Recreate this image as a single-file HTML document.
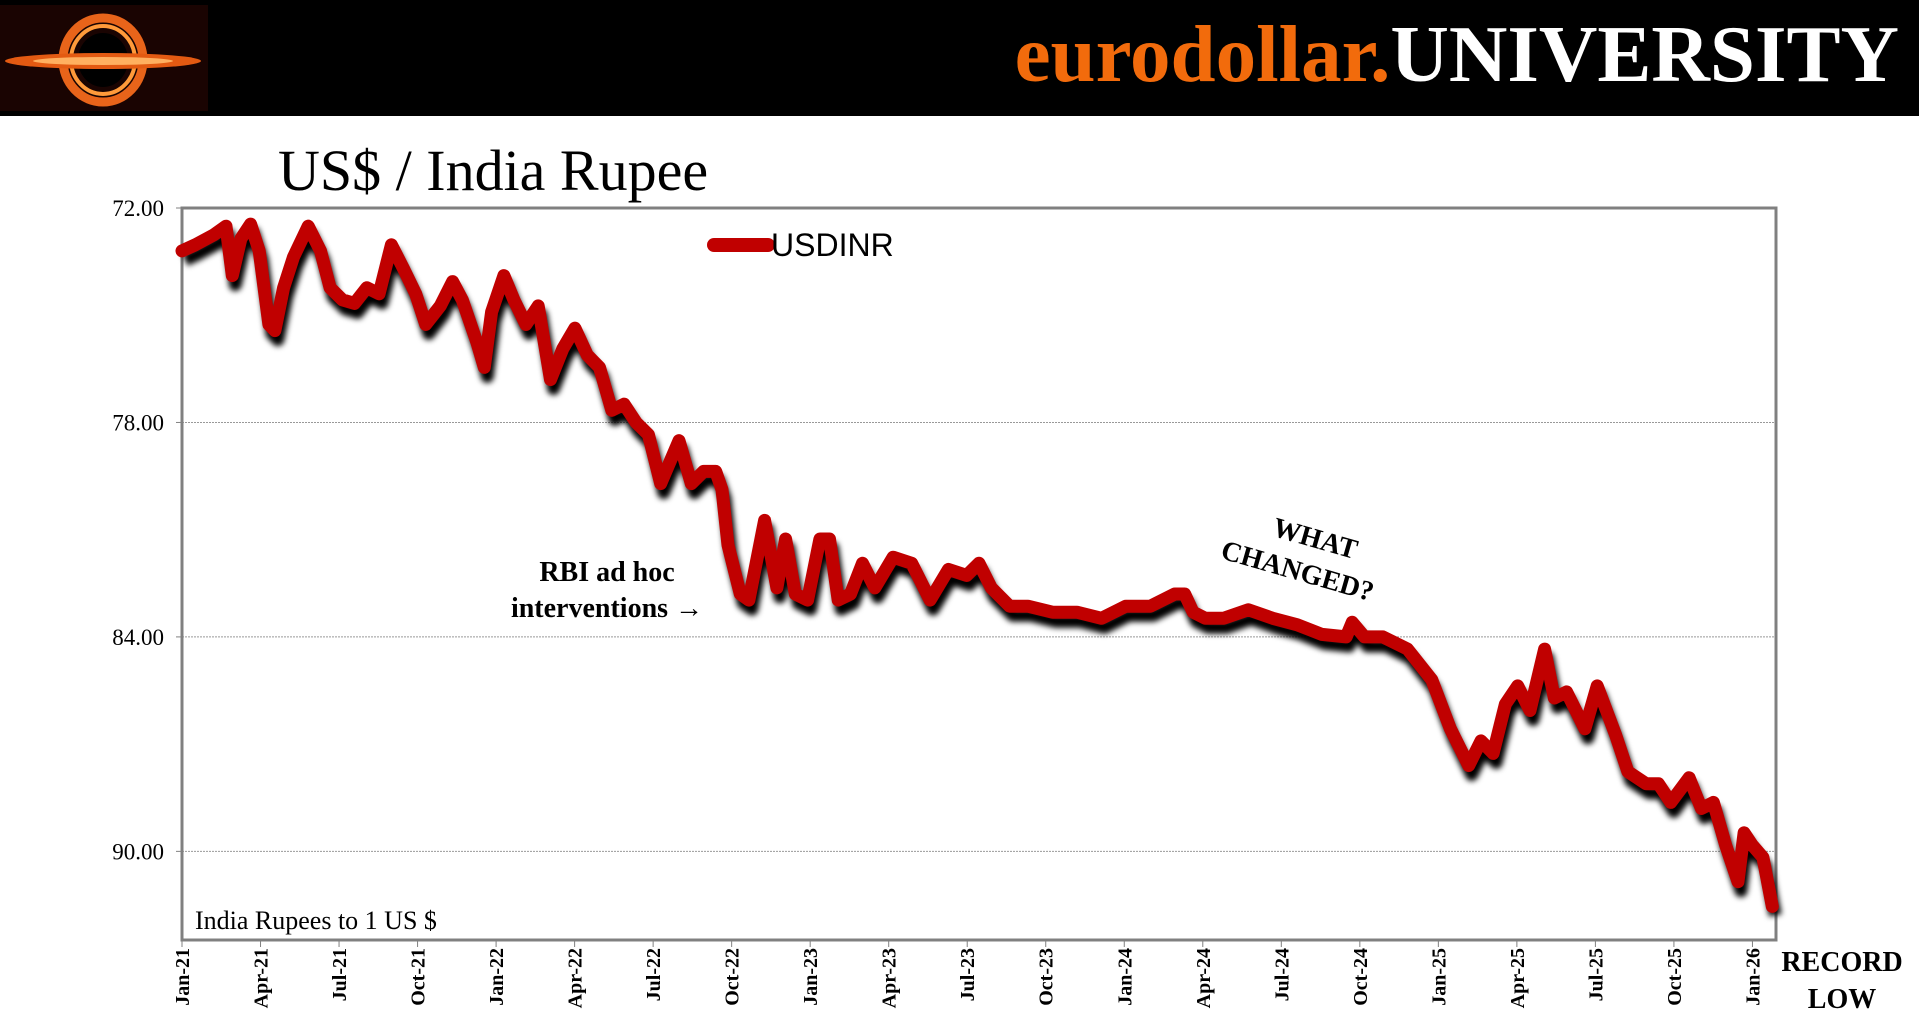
<!DOCTYPE html>
<html><head><meta charset="utf-8">
<style>
html,body{margin:0;padding:0;background:#fff;}
body{width:1919px;height:1030px;overflow:hidden;position:relative;font-family:"Liberation Serif",serif;}
#hdr{position:absolute;left:0;top:0;width:1919px;height:116px;background:#000;}
#brand{position:absolute;right:20px;top:6px;font-family:"Liberation Serif",serif;font-weight:bold;font-size:81px;line-height:96px;white-space:nowrap;}
</style></head>
<body>
<div id="hdr">
  <svg width="208" height="116" style="position:absolute;left:0;top:0">
    <rect x="0" y="5" width="208" height="106" fill="#1a0402"/>
    <ellipse cx="103" cy="60" rx="40" ry="42" fill="none" stroke="#e8641a" stroke-width="9"/>
    <ellipse cx="103" cy="60" rx="32" ry="34" fill="none" stroke="#ff9a3a" stroke-width="4"/>
    <ellipse cx="103" cy="60" rx="25" ry="27" fill="#000"/>
    <ellipse cx="103" cy="61" rx="98" ry="8" fill="#e35a12"/>
    <ellipse cx="103" cy="61" rx="70" ry="4" fill="#ffb060"/>
  </svg>
  <div id="brand"><span style="color:#f26b0c">eurodollar.</span><span style="color:#fff">UNIVERSITY</span></div>
</div>
<div style="position:absolute;left:278px;top:137px;font-size:58px;line-height:68px;color:#000;white-space:nowrap;">US$ / India Rupee</div>
<svg id="chart" width="1919" height="1030" style="position:absolute;left:0;top:0">
  <defs><filter id="sh" x="-5%" y="-5%" width="110%" height="120%"><feGaussianBlur stdDeviation="3"/></filter></defs>
  <g id="grid"></g>
  <rect x="182" y="208" width="1594" height="732" fill="none" stroke="#808080" stroke-width="3"/>
  <g id="yt"></g><g id="xt"></g>
  <path id="shadow" fill="none" stroke="#000" stroke-width="13" stroke-linejoin="round" filter="url(#sh)" transform="translate(3,9)"/>
  <path id="line" fill="none" stroke="#c00000" stroke-width="13" stroke-linejoin="round" stroke-linecap="round"/>
  <line x1="714" y1="245" x2="768" y2="245" stroke="#c00000" stroke-width="14" stroke-linecap="round"/>
  <text x="771" y="256" font-family="Liberation Sans, sans-serif" font-size="32" fill="#000">USDINR</text>
  <text x="195" y="929" font-size="26" fill="#000">India Rupees to 1 US $</text>
  <text x="607" y="581" font-size="28" font-weight="bold" text-anchor="middle">RBI ad hoc</text>
  <text x="607" y="617" font-size="28" font-weight="bold" text-anchor="middle">interventions →</text>
  <g transform="translate(1305,545) rotate(16)">
    <text x="8" y="0" font-size="28" font-weight="bold" text-anchor="middle">WHAT</text>
    <text x="0" y="36" font-size="28" font-weight="bold" text-anchor="middle">CHANGED?</text>
  </g>
  <text x="1842" y="971" font-size="28" font-weight="bold" text-anchor="middle">RECORD</text>
  <text x="1842" y="1008" font-size="28" font-weight="bold" text-anchor="middle">LOW</text>
</svg>
<script>
const months=[0,0.51,1.22,1.68,1.92,2.25,2.62,2.95,3.32,3.55,3.88,4.26,4.82,5.29,5.66,6.13,6.59,7.06,7.53,8.0,8.47,8.93,9.31,9.87,10.34,10.71,11.27,11.55,11.83,12.3,12.68,13.14,13.61,14.08,14.55,15.01,15.48,15.95,16.42,16.89,17.35,17.82,18.29,18.99,19.46,19.93,20.39,20.63,20.86,21.33,21.66,22.26,22.73,23.06,23.43,23.9,24.37,24.74,25.07,25.54,26.0,26.47,27.17,27.88,28.58,29.28,29.98,30.45,30.92,31.62,32.32,33.26,34.19,35.13,36.06,37.0,37.93,38.31,38.63,39.1,39.8,40.74,41.67,42.61,43.55,44.48,44.71,45.18,45.88,46.82,47.75,48.46,49.16,49.63,50.09,50.56,51.03,51.5,52.06,52.43,52.9,53.6,54.07,54.77,55.24,55.94,56.41,56.88,57.58,58.05,58.51,58.98,59.45,59.68,60.0,60.4,60.76];
const values=[73.2,73.03,72.75,72.51,73.89,72.86,72.45,73.2,75.26,75.43,74.23,73.37,72.51,73.2,74.23,74.57,74.67,74.23,74.4,73.03,73.71,74.4,75.26,74.74,74.06,74.57,75.77,76.46,74.91,73.89,74.57,75.26,74.74,76.8,75.94,75.36,76.11,76.46,77.66,77.49,78.0,78.34,79.71,78.51,79.71,79.37,79.37,79.88,81.43,82.8,82.97,80.74,82.63,81.26,82.8,82.97,81.26,81.26,82.97,82.8,81.94,82.63,81.77,81.94,82.97,82.11,82.28,81.94,82.63,83.14,83.14,83.31,83.31,83.48,83.14,83.14,82.8,82.8,83.31,83.48,83.48,83.24,83.48,83.66,83.93,84.0,83.59,84.0,84.0,84.34,85.2,86.57,87.6,86.91,87.26,85.88,85.37,86.06,84.34,85.71,85.54,86.57,85.37,86.74,87.77,88.11,88.11,88.63,87.94,88.8,88.63,89.83,90.85,89.48,89.83,90.17,91.54];
const yTicks=[72,78,84,90];
const yTickLabels=["72.00","78.00","84.00","90.00"];
const xTickMonths=[0,3,6,9,12,15,18,21,24,27,30,33,36,39,42,45,48,51,54,57,60];
const xTickLabels=["Jan-21","Apr-21","Jul-21","Oct-21","Jan-22","Apr-22","Jul-22","Oct-22","Jan-23","Apr-23","Jul-23","Oct-23","Jan-24","Apr-24","Jul-24","Oct-24","Jan-25","Apr-25","Jul-25","Oct-25","Jan-26"];
const X0=182,X1=1776,Y0=208,Y1=940,XMAX=60.9,YMIN=72,YMAX=92.48;
const sx=m=>X0+(X1-X0)*m/XMAX;
const sy=v=>Y0+(Y1-Y0)*(v-YMIN)/(YMAX-YMIN);
const NS="http://www.w3.org/2000/svg";
const grid=document.getElementById('grid'),yt=document.getElementById('yt'),xt=document.getElementById('xt');
yTicks.forEach((v,i)=>{
  if(i>0){const l=document.createElementNS(NS,'line');
  l.setAttribute('x1',X0);l.setAttribute('x2',X1);l.setAttribute('y1',sy(v));l.setAttribute('y2',sy(v));
  l.setAttribute('stroke','#999');l.setAttribute('stroke-width','1');l.setAttribute('stroke-dasharray','2,1');
  
  
  grid.appendChild(l);}
  const t=document.createElementNS(NS,'text');
  t.setAttribute('x',X0-18);t.setAttribute('y',sy(v)+8);t.setAttribute('text-anchor','end');t.setAttribute('font-size','23');
  t.textContent=yTickLabels[i];
  
  
  yt.appendChild(t);
  const tk=document.createElementNS(NS,'line');
  tk.setAttribute('x1',X0-6);tk.setAttribute('x2',X0);tk.setAttribute('y1',sy(v));tk.setAttribute('y2',sy(v));tk.setAttribute('stroke','#808080');
  
  
  yt.appendChild(tk);
});
xTickMonths.forEach((m,i)=>{
  const x=sx(m);
  const tk=document.createElementNS(NS,'line');
  tk.setAttribute('x1',x);tk.setAttribute('x2',x);tk.setAttribute('y1',Y1);tk.setAttribute('y2',Y1+7);tk.setAttribute('stroke','#808080');
  
  
  xt.appendChild(tk);
  const t=document.createElementNS(NS,'text');
  t.setAttribute('transform','translate('+(x+7)+','+(Y1+8)+') rotate(-90)');
  t.setAttribute('text-anchor','end');t.setAttribute('font-size','20');t.setAttribute('font-weight','bold');
  t.textContent=xTickLabels[i];
  
  
  xt.appendChild(t);
});
const d=months.map((m,i)=>(i?'L':'M')+sx(m).toFixed(1)+','+sy(values[i]).toFixed(1)).join(' ');
const line=document.getElementById('line');line.setAttribute('d',d);


const sh=document.getElementById('shadow');sh.setAttribute('d',d);


</script>
</body></html>
